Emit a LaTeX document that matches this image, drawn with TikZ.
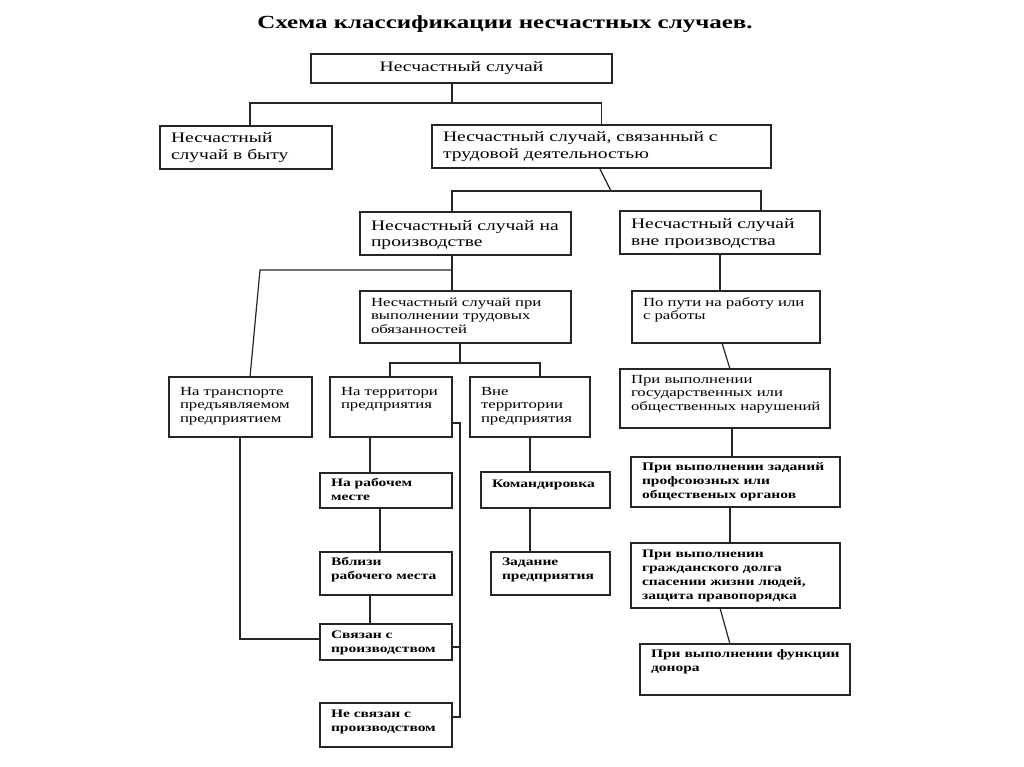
\documentclass[tikz,border=0pt]{standalone}
\usepackage{fontspec}
\setmainfont{Liberation Serif}[FakeStretch=1.35]
\begin{document}
\begin{tikzpicture}[x=1pt,y=-1pt,
  box/.style={draw=black!85,line width=1.3pt,inner sep=0pt,outer sep=0pt},
  conn/.style={draw=black!85,line width=1.2pt},
]
\newcommand\bx[8]{%
 \node[box,anchor=north west] (#1) at (#2,#3) {\parbox[t][#5pt][t]{#4pt}{#6\raggedright\leftskip=11pt\rule{0pt}{#7pt}#8\par}};}
\newcommand\fU{\fontsize{14.5}{17}\selectfont}
\newcommand\fM{\fontsize{12.4}{13.8}\selectfont}
\newcommand\fL{\fontsize{11.5}{14.2}\selectfont\bfseries}
\useasboundingbox[fill=white] (0,0) rectangle (1024,767);

\node[anchor=base] (title) at (505,29) {\fontsize{18.5}{22}\selectfont\bfseries Схема классификации несчастных случаев.};

\bx{A}{311}{54}{301}{29}{\fU}{18}{\centering Несчастный случай}
\bx{B}{160}{126}{172}{43}{\fU}{17}{Несчастный\\случай в быту}
\bx{C}{432}{125}{339}{43}{\fU}{17}{Несчастный случай, связанный с\\трудовой деятельностью}
\bx{D}{360}{212}{211}{43}{\fU}{18}{Несчастный случай на\\производстве}
\bx{E}{620}{211}{200}{43}{\fU}{18}{Несчастный случай\\вне производства}
\bx{G}{360}{291}{211}{52}{\fM}{15}{Несчастный случай при\\выполнении трудовых\\обязанностей}
\bx{H}{632}{291}{188}{52}{\fM}{15}{По пути на работу или\\с работы}
\bx{F}{169}{377}{143}{60}{\fM}{18}{На транспорте\\предъявляемом\\предприятием}
\bx{I}{330}{377}{122}{60}{\fM}{18}{На территори\\предприятия}
\bx{J}{470}{377}{120}{60}{\fM}{18}{Вне\\территории\\предприятия}
\bx{K}{620}{369}{210}{59}{\fM}{14}{При выполнении\\государственных или\\общественных нарушений}
\bx{L}{320}{473}{132}{35}{\fL}{13}{На рабочем\\месте}
\bx{M}{320}{552}{132}{43}{\fL}{13}{Вблизи\\рабочего места}
\bx{N}{320}{624}{132}{36}{\fL}{14}{Связан с\\производством}
\bx{O}{320}{703}{132}{44}{\fL}{14}{Не связан с\\производством}
\bx{P}{481}{472}{129}{36}{\fL}{15}{Командировка}
\bx{Q}{491}{552}{119}{43}{\fL}{13}{Задание\\предприятия}
\bx{R}{631}{457}{209}{50}{\fL}{13}{При выполнении заданий\\профсоюзных или\\общественых органов}
\bx{S}{631}{543}{209}{65}{\fL}{14}{При выполнении\\гражданского долга\\спасении жизни людей,\\защита правопорядка}
\bx{T}{640}{644}{210}{51}{\fL}{13}{При выполнении функции\\донора}

% connectors
\coordinate (aj) at (452,103);
\draw[conn] ([xshift=-9.5pt]A.south) -- (aj);
\draw[conn] ([xshift=4pt]B.north) |- (aj) -| (C.north);

\coordinate (cj) at (611,191);
\draw[conn] ([xshift=-2pt]C.south) -- (cj);
\draw[conn] ([xshift=-13.5pt]D.north) |- (cj) -| ([xshift=41pt]E.north);

\draw[conn] ([xshift=-13.5pt]D.south) -- ([xshift=-13.5pt]G.north);
\coordinate (dj) at (452,270);
\coordinate (fj) at (260,270);
\draw[conn] (dj) -- (fj) -- ([xshift=9.5pt]F.north);

\draw[conn] (E.south) -- (E.south |- H.north);
\draw[conn] ([xshift=-4pt]H.south) -- ([xshift=5pt]K.north);

\coordinate (gj) at (460,363);
\draw[conn] ([xshift=-5.5pt]G.south) -- (gj);
\draw[conn] ([xshift=-1pt]I.north) |- (gj) -| ([xshift=10pt]J.north);

\draw[conn] ([xshift=7pt]K.south) -- ([xshift=7pt]K.south |- R.north);
\draw[conn] ([xshift=-5.5pt]R.south) -- ([xshift=-5.5pt]S.north);
\draw[conn] ([xshift=-15.5pt]S.south) -- ([xshift=-15pt]T.north);

\draw[conn] ([xshift=-0.5pt]F.south) |- ([yshift=3pt]N.west);
\draw[conn] ([xshift=-21pt]I.south) -- ([xshift=-21pt]I.south |- L.north);
\draw[conn] ([xshift=-6pt]L.south) -- ([xshift=-6pt]M.north);
\draw[conn] ([xshift=-16pt]M.south) -- ([xshift=-16pt]N.north);

\coordinate (bt) at (460,423);
\coordinate (bb) at (460,717);
\draw[conn] (I.east |- bt) -- (bt) -- (bb) -- (bb -| O.east);
\draw[conn] ([yshift=-5pt]N.east) -- ([yshift=-5pt]N.east -| bt);

\draw[conn] (J.south) -- (J.south |- P.north);
\draw[conn] (J.south |- P.south) -- (J.south |- Q.north);
\end{tikzpicture}
\end{document}
